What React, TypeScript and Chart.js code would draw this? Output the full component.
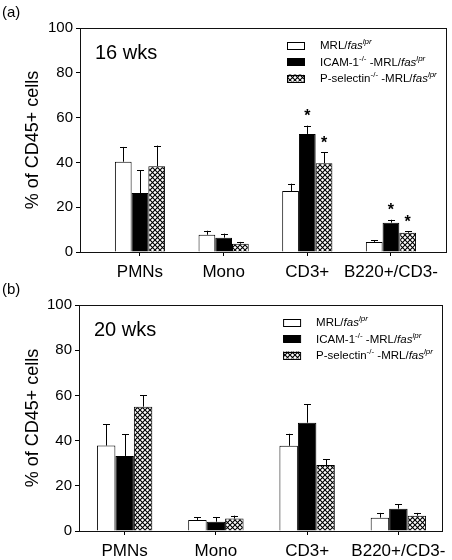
import React, { useEffect, useRef } from 'react';
import { Chart, registerables } from 'chart.js';

Chart.register(...registerables);

// ---- data ----
const categories = ['PMNs', 'Mono', 'CD3+', 'B220+/CD3-'];
const yTicks = [0, 20, 40, 60, 80, 100];

const mrl16 = [40.3, 7.7, 27.2, 4.5];
const mrl16Err = [6.6, 1.8, 3.3, 0.7];
const icam16 = [26.3, 6.4, 52.7, 13.1];
const icam16Err = [10.3, 1.8, 3.7, 1.3];
const psel16 = [38.3, 3.7, 39.6, 8.6];
const psel16Err = [9.2, 0.8, 5.0, 0.6];
// [seriesIndex, categoryIndex]
const stars16 = [[1, 2], [2, 2], [1, 3], [2, 3]];

const mrl20 = [37.8, 4.9, 37.7, 5.9];
const mrl20Err = [9.5, 1.1, 5.3, 2.1];
const icam20 = [33.2, 4.1, 47.9, 9.9];
const icam20Err = [9.5, 2.1, 8.1, 1.9];
const psel20 = [55.0, 5.5, 29.2, 6.8];
const psel20Err = [5.0, 1.3, 2.6, 1.2];
const stars20: number[][] = [];

const FONT = '"Liberation Sans", Arial, Helvetica, sans-serif';

type Seg = { t: string; i?: boolean; s?: boolean };
const legendRows: Seg[][] = [
  [{ t: 'MRL/' }, { t: 'fas', i: true }, { t: 'lpr', i: true, s: true }],
  [{ t: 'ICAM-1' }, { t: '-/-', s: true }, { t: ' -MRL/' }, { t: 'fas', i: true }, { t: 'lpr', i: true, s: true }],
  [{ t: 'P-selectin' }, { t: '-/-', s: true }, { t: ' -MRL/' }, { t: 'fas', i: true }, { t: 'lpr', i: true, s: true }],
];

function makeHatch(): CanvasPattern | string {
  const c = document.createElement('canvas');
  const n = 5;
  c.width = n;
  c.height = n;
  const g = c.getContext('2d');
  if (!g) return '#888';
  g.fillStyle = '#fff';
  g.fillRect(0, 0, n, n);
  g.strokeStyle = '#000';
  g.lineWidth = 1.1;
  g.beginPath();
  g.moveTo(-1, -1);
  g.lineTo(n + 1, n + 1);
  g.moveTo(-1, n + 1);
  g.lineTo(n + 1, -1);
  g.stroke();
  return g.createPattern(c, 'repeat') || '#888';
}

function drawRich(ctx: CanvasRenderingContext2D, x: number, y: number, segs: Seg[], size: number) {
  let cx = x;
  ctx.textBaseline = 'alphabetic';
  ctx.textAlign = 'left';
  for (const seg of segs) {
    const fs = seg.s ? Math.round(size * 0.7) : size;
    ctx.font = `${seg.i ? 'italic ' : ''}${fs}px ${FONT}`;
    ctx.fillText(seg.t, cx, seg.s ? y - size * 0.42 : y);
    cx += ctx.measureText(seg.t).width;
  }
}

type PanelProps = {
  label: string;
  weeks: string;
  values: number[][];
  errors: number[][];
  stars: number[][];
  xMin: number;
  xMax: number;
  catPct: number;
  top: number;
  left: number;
  axisH: number;
};

function Panel(p: PanelProps) {
  const ref = useRef<HTMLCanvasElement>(null);
  useEffect(() => {
    if (!ref.current) return;
    const hatch = makeHatch();
    const fills = ['#ffffff', '#000000', hatch];

    const overlay = {
      id: 'overlay',
      afterDatasetsDraw(chart: any) {
        const ctx: CanvasRenderingContext2D = chart.ctx;
        const ys = chart.scales.y;
        ctx.save();
        ctx.strokeStyle = '#000';
        ctx.fillStyle = '#000';
        ctx.lineWidth = 1;
        // error bars
        p.values.forEach((vals, k) => {
          const meta = chart.getDatasetMeta(k);
          vals.forEach((v, i) => {
            const el = meta.data[i];
            if (!el) return;
            const x = Math.round(el.x) + 0.5;
            const y0 = ys.getPixelForValue(v);
            const y1 = ys.getPixelForValue(v + p.errors[k][i]);
            ctx.beginPath();
            ctx.moveTo(x, y0);
            ctx.lineTo(x, y1);
            ctx.moveTo(x - 3.5, Math.round(y1) + 0.5);
            ctx.lineTo(x + 3.5, Math.round(y1) + 0.5);
            ctx.stroke();
          });
        });
        // asterisks
        ctx.font = `bold 16px ${FONT}`;
        ctx.textAlign = 'center';
        ctx.textBaseline = 'middle';
        p.stars.forEach(([k, i]) => {
          const el = chart.getDatasetMeta(k).data[i];
          const y1 = ys.getPixelForValue(p.values[k][i] + p.errors[k][i]);
          ctx.fillText('*', el.x, y1 - 9);
        });
        ctx.restore();
      },
      afterDraw(chart: any) {
        const ctx: CanvasRenderingContext2D = chart.ctx;
        const a = chart.chartArea;
        ctx.save();
        ctx.strokeStyle = '#111';
        ctx.lineWidth = 1;
        ctx.strokeRect(Math.round(a.left) + 0.5, Math.round(a.top) + 0.5, Math.round(a.right - a.left) - 1, Math.round(a.bottom - a.top));
        ctx.fillStyle = '#000';
        // panel letter
        ctx.font = `15px ${FONT}`;
        ctx.textAlign = 'left';
        ctx.textBaseline = 'middle';
        ctx.fillText(p.label, 2, p.top - 15);
        // weeks
        ctx.font = `20px ${FONT}`;
        ctx.fillText(p.weeks, a.left + 15, a.top + 25);
        // legend
        const bx = a.right - 160;
        legendRows.forEach((row, k) => {
          const cy = a.top + 17 + k * 16.5;
          ctx.fillStyle = fills[k] as any;
          ctx.fillRect(bx, cy - 3.5, 17, 7);
          ctx.strokeStyle = '#000';
          ctx.strokeRect(bx + 0.5, Math.round(cy - 3.5) + 0.5, 17, 7);
          ctx.fillStyle = '#000';
          drawRich(ctx, bx + 33, cy + 4, row, 11.5);
        });
        ctx.restore();
      },
    };

    const chart = new Chart(ref.current, {
      type: 'bar',
      data: {
        datasets: p.values.map((vals, k) => ({
          label: legendRows[k].map((s) => s.t).join(''),
          data: vals.map((v, i) => ({ x: i + 1, y: v })),
          backgroundColor: fills[k] as any,
          borderColor: '#000',
          borderWidth: 1,
          categoryPercentage: p.catPct,
          barPercentage: 1,
        })),
      },
      options: {
        responsive: false,
        animation: false,
        events: [],
        layout: { padding: { top: p.top, right: 5, left: 0, bottom: 0 } },
        plugins: { legend: { display: false }, tooltip: { enabled: false } },
        scales: {
          x: {
            type: 'linear',
            offset: false,
            min: p.xMin,
            max: p.xMax,
            afterBuildTicks: (sc: any) => {
              sc.ticks = categories.map((_, i) => ({ value: i + 1 }));
            },
            afterFit: (sc: any) => {
              sc.height = p.axisH;
            },
            ticks: {
              callback: (v: any) => categories[Math.round(Number(v)) - 1] ?? '',
              font: { family: FONT, size: 17 },
              color: '#000',
              padding: 6,
              maxRotation: 0,
              autoSkip: false,
            },
            grid: { offset: false, drawOnChartArea: false, tickLength: 4, color: '#000' },
            border: { display: false },
          },
          y: {
            min: 0,
            max: 100,
            afterBuildTicks: (sc: any) => {
              sc.ticks = yTicks.map((v) => ({ value: v }));
            },
            afterFit: (sc: any) => {
              sc.width = p.left;
            },
            ticks: {
              font: { family: FONT, size: 15 },
              color: '#000',
              padding: 3,
            },
            grid: { drawOnChartArea: false, tickLength: 4, color: '#000' },
            border: { display: false },
            title: {
              display: true,
              text: '% of CD45+ cells',
              font: { family: FONT, size: 18 },
              color: '#000',
              padding: { top: 22, bottom: 0 },
            },
          },
        },
      } as any,
      plugins: [overlay],
    });
    return () => chart.destroy();
  }, []);
  return <canvas ref={ref} width={452} height={280} style={{ display: 'block', width: 452, height: 280 }} />;
}

export default function App() {
  return (
    <div style={{ position: 'absolute', left: 0, top: 0, width: 452, height: 560, background: '#fff' }}>
      <Panel
        label="(a)"
        weeks="16 wks"
        values={[mrl16, icam16, psel16]}
        errors={[mrl16Err, icam16Err, psel16Err]}
        stars={stars16}
        xMin={0.283}
        xMax={4.67}
        catPct={0.6}
        top={28}
        left={80}
        axisH={28}
      />
      <Panel
        label="(b)"
        weeks="20 wks"
        values={[mrl20, icam20, psel20]}
        errors={[mrl20Err, icam20Err, psel20Err]}
        stars={stars20}
        xMin={0.5}
        xMax={4.49}
        catPct={0.607}
        top={25}
        left={79}
        axisH={29}
      />
    </div>
  );
}
